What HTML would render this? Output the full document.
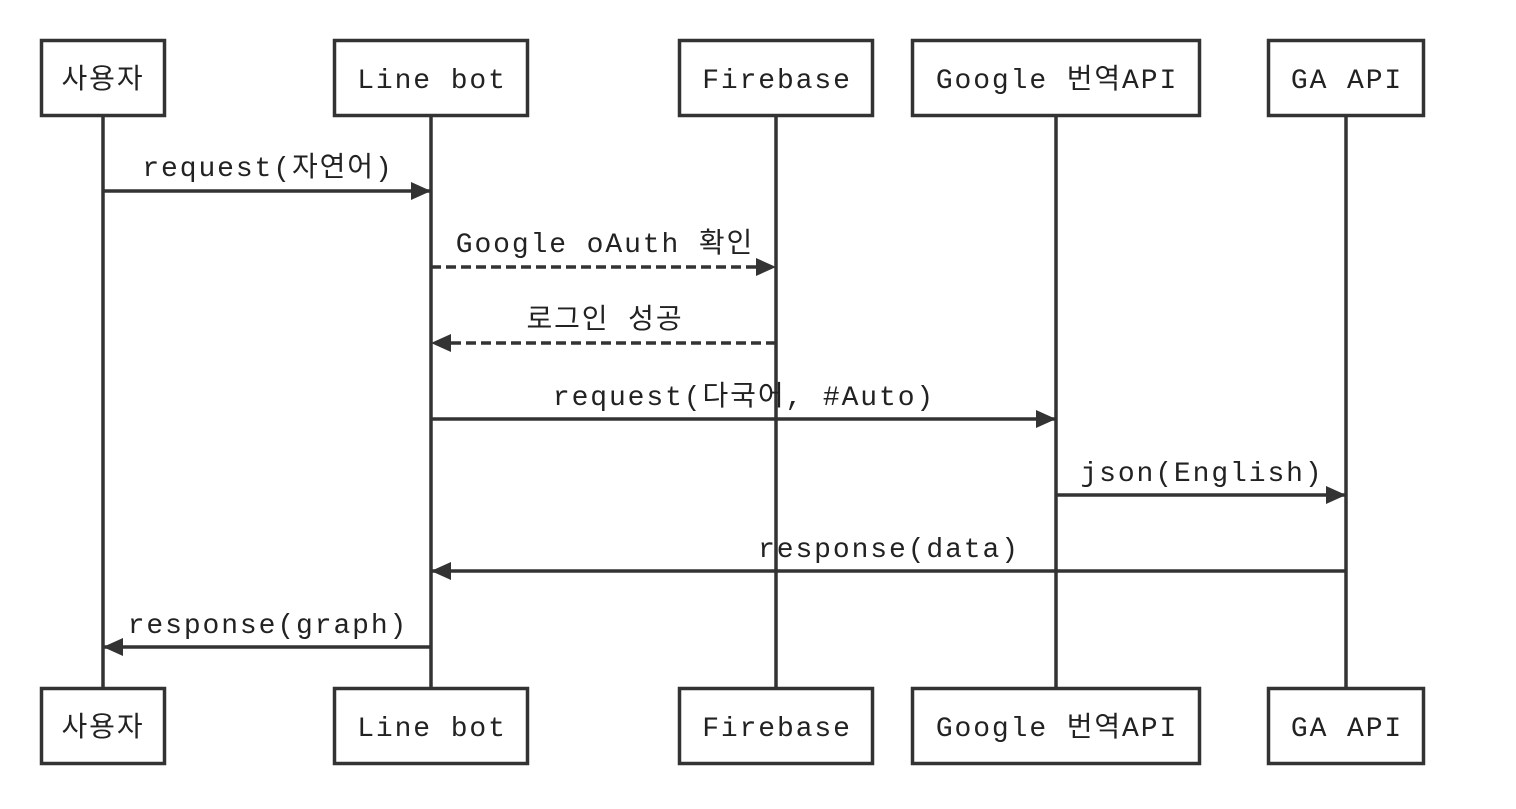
<!DOCTYPE html>
<html><head><meta charset="utf-8"><style>
html,body{margin:0;padding:0;background:#fff;}
svg text{font-family:"Liberation Mono","Noto Sans CJK KR",monospace;font-size:28px;fill:#222;letter-spacing:1.9px;}
</style></head><body>
<svg width="1516" height="804" viewBox="0 0 1516 804" xmlns="http://www.w3.org/2000/svg">
<defs>
<marker id="a" markerWidth="20" markerHeight="18" refX="20" refY="9" orient="auto" markerUnits="userSpaceOnUse"><path d="M0,0 L20,9 L0,18 Z" fill="#333"/></marker>
</defs>
<g stroke="#333" stroke-width="3.5" fill="none">
<line x1="103" y1="116" x2="103" y2="688"/>
<line x1="431" y1="116" x2="431" y2="688"/>
<line x1="776" y1="116" x2="776" y2="688"/>
<line x1="1056" y1="116" x2="1056" y2="688"/>
<line x1="1346" y1="116" x2="1346" y2="688"/>
<g fill="#fff">
<rect x="41.5" y="40.5" width="123" height="75"/><rect x="334.5" y="40.5" width="193" height="75"/><rect x="679.5" y="40.5" width="193" height="75"/><rect x="912.5" y="40.5" width="287" height="75"/><rect x="1268.5" y="40.5" width="155" height="75"/>
<rect x="41.5" y="688.5" width="123" height="75"/><rect x="334.5" y="688.5" width="193" height="75"/><rect x="679.5" y="688.5" width="193" height="75"/><rect x="912.5" y="688.5" width="287" height="75"/><rect x="1268.5" y="688.5" width="155" height="75"/>
</g>
<line x1="103" y1="191" x2="431" y2="191" marker-end="url(#a)"/>
<line x1="431" y1="267" x2="776" y2="267" stroke-dasharray="10,5" marker-end="url(#a)"/>
<line x1="776" y1="343" x2="431" y2="343" stroke-dasharray="10,5" marker-end="url(#a)"/>
<line x1="431" y1="419" x2="1056" y2="419" marker-end="url(#a)"/>
<line x1="1056" y1="495" x2="1346" y2="495" marker-end="url(#a)"/>
<line x1="1346" y1="571" x2="431" y2="571" marker-end="url(#a)"/>
<line x1="431" y1="647" x2="103" y2="647" marker-end="url(#a)"/>
</g>
<g text-anchor="middle">
<text x="103" y="88">사용자</text><text x="432" y="88">Line bot</text><text x="777" y="88">Firebase</text><text x="1057" y="88">Google 번역API</text><text x="1347" y="88">GA API</text>
<text x="103" y="736">사용자</text><text x="432" y="736">Line bot</text><text x="777" y="736">Firebase</text><text x="1057" y="736">Google 번역API</text><text x="1347" y="736">GA API</text>
<text x="268" y="176">request(자연어)</text>
<text x="605" y="252">Google oAuth 확인</text>
<text x="605" y="328">로그인 성공</text>
<text x="744" y="405">request(다국어, #Auto)</text>
<text x="1202" y="481">json(English)</text>
<text x="889" y="557">response(data)</text>
<text x="268" y="633">response(graph)</text>
</g>
</svg>
</body></html>
